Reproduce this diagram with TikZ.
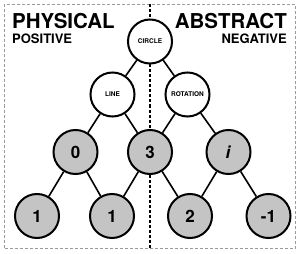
\documentclass[tikz,border=0pt]{standalone}
\usepackage{fontspec}
\setmainfont{TeX Gyre Heros}
\usetikzlibrary{positioning}
\definecolor{cFill}{HTML}{C4C4C4}
\definecolor{cFrame}{HTML}{9A9A9A}

\begin{document}
\begin{tikzpicture}[
    x=1pt,y=-1pt,font=\bfseries,
    nd/.style ={circle,draw,line width=2pt,fill=white,minimum size=44pt,inner sep=0pt,
                font=\bfseries\fontsize{6.5}{6.5}\selectfont},
    num/.style={nd,fill=cFill,font=\bfseries\fontsize{17}{17}\selectfont},
    ln/.style ={line width=1.6pt},
    big/.style={inner sep=0pt,font=\bfseries\fontsize{20.5}{20.5}\selectfont},
    sub/.style={inner sep=0pt,font=\bfseries\fontsize{13}{13}\selectfont},
  ]
  \useasboundingbox (0,0) rectangle (300,254);

  % ---------- FRAME AND DIVIDER ----------
  \draw[cFrame,line width=1pt,dash pattern=on 3pt off 2pt] (4,4.5) rectangle (295.5,248.5);
  \coordinate (dtop) at (150,4.5);
  \coordinate (dbot) at (150,248.5);
  \draw[line width=1.5pt,dash pattern=on 3pt off 2pt] (dtop) -- (dbot);

  % ---------- HEADINGS ----------
  \node[big,anchor=base west] (phys) at (12,29) {PHYSICAL};
  \node[sub,anchor=base west] (pos)  at (12,44) {POSITIVE};
  \node[big,anchor=base east] (abst) at (287,29) {ABSTRACT};
  \node[sub,anchor=base east] (neg)  at (287,44) {NEGATIVE};

  % ---------- TREE ----------
  \node[nd]  (circ) at (150,41.5)  {CIRCLE};
  \node[nd]  (line) at (112.5,94.5){LINE};
  \node[nd]  (rot)  at (187.5,94.5){ROTATION};
  \node[num] (zero) at (75.5,152)  {0};
  \node[num] (three)at (150,152)   {3};
  \node[num] (imag) at (228.5,152) {\textit{i}};
  \node[num] (oneA) at (37,216)    {1};
  \node[num] (oneB) at (112,216)   {1};
  \node[num] (two)  at (190,216)   {2};
  \node[num] (mone) at (268.5,216) {-1};

  \draw[ln] (circ) -- (line);
  \draw[ln] (circ) -- (rot);
  \draw[ln] (line) -- (zero);
  \draw[ln] (line) -- (three);
  \draw[ln] (rot)  -- (three);
  \draw[ln] (rot)  -- (imag);
  \draw[ln] (zero) -- (oneA);
  \draw[ln] (zero) -- (oneB);
  \draw[ln] (three)-- (oneB);
  \draw[ln] (three)-- (two);
  \draw[ln] (imag) -- (two);
  \draw[ln] (imag) -- (mone);

\end{tikzpicture}
\end{document}
